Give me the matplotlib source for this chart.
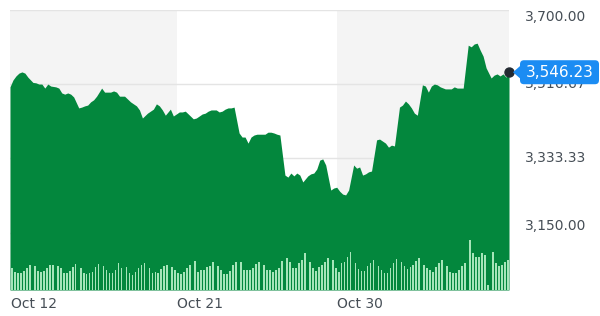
import numpy as np
import matplotlib
matplotlib.use("Agg")
import matplotlib.pyplot as plt
from matplotlib.patches import FancyBboxPatch, Polygon
from matplotlib.transforms import IdentityTransform, blended_transform_factory

# ── Data: hourly closes (7 bars per session) ────────────────────────────────
dates = ["Oct 12", "Oct 13", "Oct 14", "Oct 15", "Oct 16",
         "Oct 19", "Oct 20", "Oct 21", "Oct 22", "Oct 23",
         "Oct 26", "Oct 27", "Oct 28", "Oct 29", "Oct 30",
         "Nov 2", "Nov 3", "Nov 4", "Nov 5", "Nov 6",
         "Nov 9", "Nov 10"]

price = [
    [3510, 3527, 3537, 3544, 3547, 3544, 3534],
    [3521, 3520, 3517, 3517, 3507, 3517, 3512],
    [3510, 3507, 3495, 3492, 3495, 3492, 3485],
    [3458, 3460, 3463, 3465, 3473, 3478, 3487],
    [3507, 3497, 3497, 3497, 3500, 3497, 3487],
    [3487, 3480, 3473, 3468, 3463, 3453, 3433],
    [3445, 3450, 3455, 3468, 3463, 3453, 3440],
    [3455, 3438, 3443, 3448, 3448, 3450, 3443],
    [3431, 3433, 3438, 3443, 3445, 3450, 3453],
    [3453, 3448, 3450, 3455, 3458, 3458, 3460],
    [3396, 3386, 3386, 3371, 3386, 3391, 3393],
    [3393, 3393, 3398, 3398, 3396, 3393, 3391],
    [3292, 3287, 3297, 3290, 3297, 3292, 3275],
    [3290, 3295, 3297, 3307, 3329, 3332, 3317],
    [3255, 3260, 3262, 3252, 3245, 3243, 3255],
    [3317, 3309, 3312, 3292, 3295, 3300, 3302],
    [3379, 3381, 3376, 3371, 3361, 3366, 3364],
    [3460, 3465, 3475, 3468, 3458, 3445, 3440],
    [3515, 3512, 3497, 3512, 3517, 3515, 3510],
    [3505, 3505, 3505, 3510, 3507, 3507, 3507],
    [3613, 3609, 3616, 3618, 3601, 3586, 3557],
    [3532, 3539, 3542, 3537, 3542, 3534, 3546.23],
]

# relative volume per hourly bar
volume = [
    [22, 18, 17, 17, 19, 22, 25],
    [24, 19, 18, 19, 22, 25, 25],
    [24, 22, 17, 17, 19, 23, 26],
    [22, 17, 16, 17, 18, 23, 26],
    [24, 20, 17, 17, 20, 27, 22],
    [23, 17, 15, 18, 22, 25, 27],
    [22, 17, 18, 17, 21, 24, 25],
    [23, 20, 17, 16, 18, 22, 25],
    [29, 18, 20, 20, 23, 24, 28],
    [24, 20, 16, 16, 19, 25, 28],
    [28, 20, 20, 20, 22, 26, 28],
    [25, 20, 20, 18, 20, 22, 29],
    [32, 28, 22, 22, 27, 30, 37],
    [28, 22, 19, 23, 25, 28, 32],
    [30, 22, 18, 27, 28, 33, 38],
    [27, 21, 19, 19, 24, 27, 30],
    [24, 20, 17, 17, 22, 27, 31],
    [28, 24, 21, 23, 25, 29, 32],
    [25, 22, 20, 18, 23, 27, 30],
    [24, 18, 17, 17, 20, 24, 27],
    [50, 37, 33, 33, 37, 35, 5],
    [38, 27, 24, 25, 28, 30, 30],
]

tick_dates = ["Oct 12", "Oct 21", "Oct 30"]
y_ticks = [3150.00, 3333.33, 3516.67, 3700.00]
y_low = 3008

GREEN = "#03873d"
MINT = "#a6e5b9"
BAND = "#f4f4f4"
GRID = "#e4e4e4"
TEXT = "#464e56"
BLUE = "#1b8cf3"

BAR_STEP = 0.13
n_bars = len(price[0])
x = np.array([d + h * BAR_STEP for d in range(len(dates)) for h in range(n_bars)])
p = np.array(price, dtype=float).ravel()
v = np.array(volume, dtype=float).ravel()
last_price = p[-1]

fig = plt.figure(figsize=(6, 3.16), dpi=100)
ax = fig.add_axes([10 / 600, 26 / 316, 499 / 600, 280 / 316])
ax.set_xlim(x[0], x[-1])
ax.set_ylim(y_low, y_ticks[-1])

# tick positions (labels sit a bit into the session; first one at the edge)
tick_x = [dates.index(t) + 0.29 for t in tick_dates]
tick_x[0] = x[0] + 0.04

# alternating background bands
ax.axvspan(x[0], tick_x[1], color=BAND, lw=0, zorder=0)
ax.axvspan(tick_x[2], x[-1], color=BAND, lw=0, zorder=0)

for yt in y_ticks:
    ax.axhline(yt, color=GRID, lw=1, zorder=1)

ax.fill_between(x, p, y_low, color=GREEN, lw=0, zorder=2)

for s in ax.spines.values():
    s.set_visible(False)

ax.set_xticks(tick_x, tick_dates)
for lab in ax.get_xticklabels():
    lab.set_ha("left")
ax.tick_params(axis="x", length=0, pad=5, labelsize=10, labelcolor=TEXT)
ax.set_yticks([])

# y labels on the right, outer ones pushed inward
tr = blended_transform_factory(ax.transAxes, ax.transData)
for i, yt in enumerate(y_ticks):
    va = "bottom" if i == 0 else ("top" if i == len(y_ticks) - 1 else "center")
    ax.text(1 + 16 / 499, yt, f"{yt:,.2f}", transform=tr, ha="left", va=va,
            fontsize=10, color=TEXT, clip_on=False)

# volume bars on a hidden twin axis
ax2 = ax.twinx()
ax2.bar(x + 0.085, v, width=0.075, color=MINT, lw=0, zorder=3)
ax2.set_ylim(0, 280)
ax2.set_xlim(x[0], x[-1])
ax2.axis("off")

ax2.plot(x[-1], last_price, "o", transform=ax.transData, color="#232a31",
         ms=6.5, clip_on=False, zorder=10)

# current price badge
px, py = ax.transData.transform((x[-1], last_price))
badge = FancyBboxPatch((px + 11, py - 12), 79, 24,
                       boxstyle="round,pad=0,rounding_size=4",
                       transform=IdentityTransform(), fc=BLUE, ec="none")
arrow = Polygon([(px + 4, py), (px + 12, py - 7), (px + 12, py + 7)],
                closed=True, transform=IdentityTransform(), fc=BLUE, ec="none")
fig.add_artist(arrow)
fig.add_artist(badge)
fig.text(px + 50.5, py, f"{last_price:,.2f}", transform=IdentityTransform(),
         ha="center", va="center", fontsize=11, color="white")

fig.savefig("out.png", dpi=100)
